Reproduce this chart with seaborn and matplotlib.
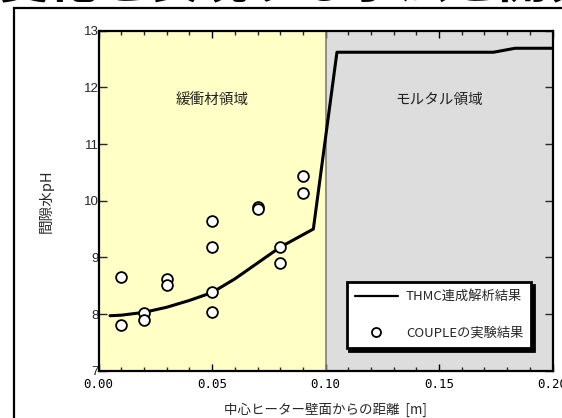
import matplotlib
matplotlib.use("Agg")
import matplotlib.pyplot as plt
import matplotlib.patches as mpatches
from matplotlib.lines import Line2D
from matplotlib.ticker import MultipleLocator
import seaborn as sns
import pandas as pd

# THMC coupled analysis: pore-water pH versus distance from heater wall
sim_x = [0.005, 0.01, 0.02, 0.03, 0.04, 0.045, 0.05, 0.06, 0.07, 0.08, 0.0946,
         0.105, 0.174, 0.1835, 0.20]
sim_ph = [7.97, 7.98, 8.03, 8.12, 8.24, 8.31, 8.38, 8.62, 8.90, 9.18, 9.50,
          12.62, 12.62, 12.69, 12.69]

# COUPLE experiment measurements
exp_x = [0.01, 0.01, 0.02, 0.02, 0.03, 0.03, 0.05, 0.05, 0.05, 0.05,
         0.07, 0.07, 0.08, 0.08, 0.09, 0.09]
exp_ph = [8.65, 7.81, 8.01, 7.90, 8.61, 8.52, 9.65, 9.18, 8.38, 8.04,
          9.88, 9.85, 9.19, 8.90, 10.44, 10.14]

x_ticks = [0.00, 0.05, 0.10, 0.15, 0.20]
x_tick_labels = ["0.00", "0.05", "0.10", "0.15", "0.20"]
y_ticks = [7, 8, 9, 10, 11, 12, 13]

sim_label = "THMC連成解析結果"
exp_label = "COUPLEの実験結果"
zone_labels = ["緩衝材領域", "モルタル領域"]
zone_spans = [(0.0, 0.10), (0.10, 0.20)]
zone_colors = ["#FFFFC6", "#DCDDDC"]
xlabel = "中心ヒーター壁面からの距離  [m]"
ylabel = "間隙水pH"
headline = "変化を表現する手法を開発"

sim_df = pd.DataFrame({"x": sim_x, "pH": sim_ph})
exp_df = pd.DataFrame({"x": exp_x, "pH": exp_ph})

sns.set_style("ticks")
plt.rcParams["font.family"] = ["Noto Sans CJK JP", "DejaVu Sans"]

fig = plt.figure(figsize=(5.62, 4.18), dpi=100)
fig.patch.set_facecolor("white")

# slide headline, cut off by the top edge
fig.text(-0.002, 1 + 1.5 / 418, headline, fontsize=36, fontweight="bold",
         color="black", va="baseline", ha="left")

# outer frame of the slide panel
fig.patches.append(mpatches.Rectangle((13.5 / 562, -0.1), 1.2, 1.1 - 8.5 / 418,
                                      transform=fig.transFigure, fill=False,
                                      edgecolor="black", linewidth=1.6))

ax = fig.add_axes([98.7 / 562, 1 - 370.7 / 418, (552.5 - 98.7) / 562, (370.7 - 30.7) / 418])

for (x0, x1), c in zip(zone_spans, zone_colors):
    ax.axvspan(x0, x1, color=c, zorder=0, lw=0)
ax.axvline(0.10, color="#7F7F7F", lw=1.2, zorder=1)

for (x0, x1), lab in zip(zone_spans, zone_labels):
    ax.text((x0 + x1) / 2, 11.77, lab, ha="center", va="center", fontsize=10.5, color="#222222")

sns.lineplot(data=sim_df, x="x", y="pH", ax=ax, color="black", lw=2.2,
             sort=False, estimator=None, zorder=3, legend=False)
sns.scatterplot(data=exp_df, x="x", y="pH", ax=ax, marker="o", s=60,
                facecolor="white", edgecolor="black", linewidth=1.3, zorder=4,
                legend=False)

ax.set_xlim(0, 0.20)
ax.set_ylim(7, 13)
ax.set_xticks(x_ticks)
ax.set_xticklabels(x_tick_labels, fontfamily="DejaVu Sans Mono", fontsize=9)
ax.xaxis.set_minor_locator(MultipleLocator(0.01))
ax.set_yticks(y_ticks)
ax.set_yticklabels([str(v) for v in y_ticks], fontfamily="Liberation Sans", fontsize=9.5)

ax.tick_params(axis="x", which="major", direction="in", length=5, width=1,
               top=True, bottom=True, pad=5, colors="black")
ax.tick_params(axis="x", which="minor", direction="in", length=3, width=1,
               top=True, bottom=True)
ax.tick_params(axis="y", which="major", direction="in", length=6, width=1,
               left=True, right=True, pad=0)

for sp in ax.spines.values():
    sp.set_linewidth(1.6)
    sp.set_color("black")

ax.set_xlabel(xlabel, fontsize=9.7, labelpad=9)
ax.set_ylabel(ylabel, fontsize=10.5, labelpad=22)

handles = [
    Line2D([], [], color="black", lw=1.6),
    Line2D([], [], ls="none", marker="o", markersize=6.5, markerfacecolor="white",
           markeredgecolor="black", markeredgewidth=1.3),
]
leg = ax.legend(handles, [sim_label, exp_label], loc="upper left",
                bbox_to_anchor=((346.7 - 98.7) / 454, 1 - (282.3 - 30.7) / 340),
                borderaxespad=0,
                fontsize=9.5, frameon=True, fancybox=False, framealpha=1,
                edgecolor="black", handlelength=3.3, labelspacing=1.8,
                borderpad=0.6, handletextpad=0.6,
                shadow={"color": "black", "alpha": 1})
leg.get_frame().set_linewidth(2.0)
leg.set_zorder(10)

fig.savefig("out.png", dpi=100, facecolor="white")
